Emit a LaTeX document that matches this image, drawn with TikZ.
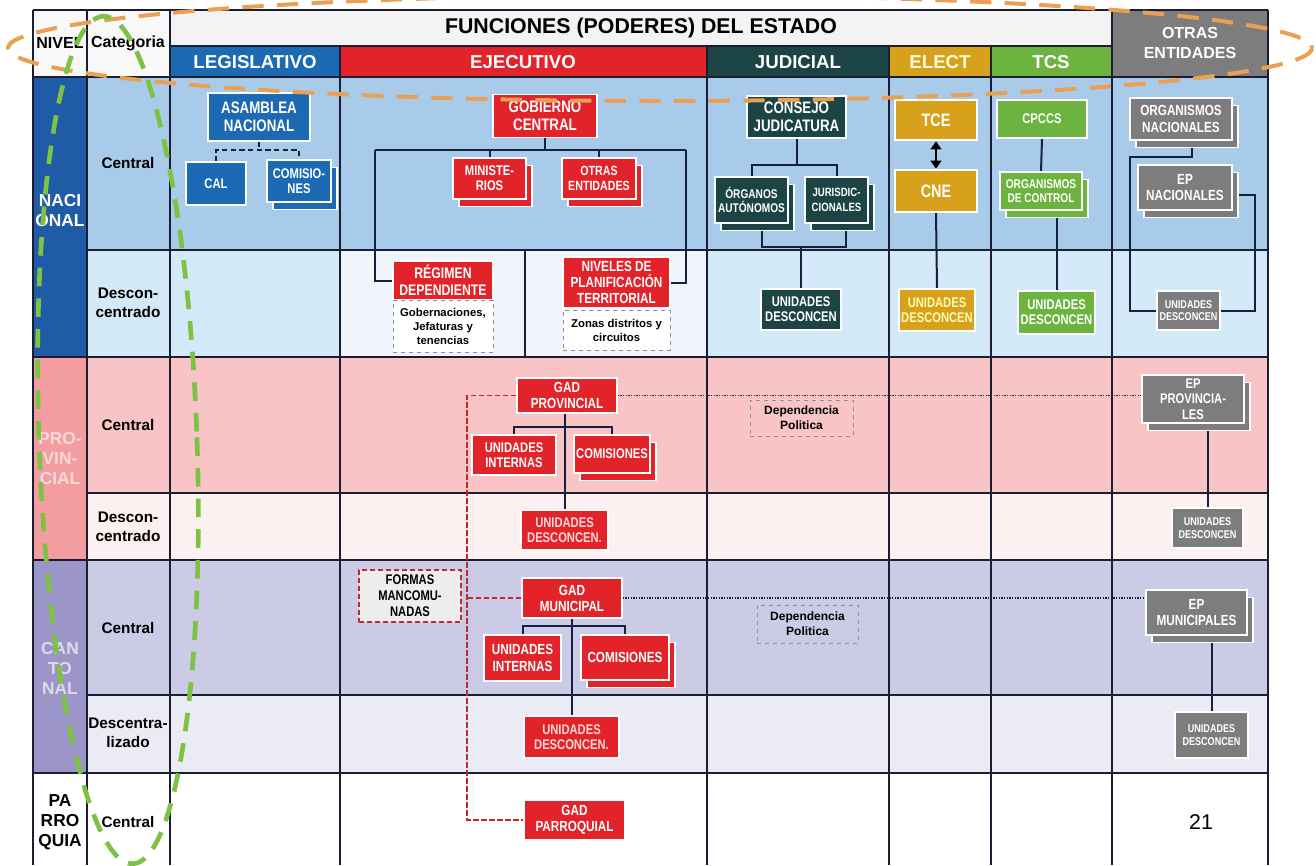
\documentclass[tikz,border=0pt]{standalone}
\usepackage{fontspec}
\setmainfont{Liberation Sans}
\newfontfamily\condfont[FakeStretch=0.8]{Liberation Sans}
\usetikzlibrary{shadows,arrows.meta}

\definecolor{tableline}{HTML}{1B1D33}
\definecolor{linknavy}{HTML}{14203F}
\definecolor{legblue}{HTML}{1C6AB4}
\definecolor{ejered}{HTML}{E2232A}
\definecolor{judgreen}{HTML}{1D4444}
\definecolor{eleggold}{HTML}{D8A11C}
\definecolor{tcsgreen}{HTML}{6CB33F}
\definecolor{otrgrey}{HTML}{7D7D7D}
\definecolor{nacblue}{HTML}{1F5BA6}
\definecolor{nacC}{HTML}{A9CBEA}
\definecolor{nacD}{HTML}{D4E9F7}
\definecolor{ejeD}{HTML}{EFF5FB}
\definecolor{provpink}{HTML}{F39DA1}
\definecolor{proC}{HTML}{F8C4C5}
\definecolor{proD}{HTML}{FDF0F0}
\definecolor{canpurple}{HTML}{9C96C8}
\definecolor{canC}{HTML}{CBCBE6}
\definecolor{canD}{HTML}{EBEBF5}
\definecolor{headgrey}{HTML}{F3F3F3}
\definecolor{orangemark}{HTML}{E9A055}
\definecolor{greenmark}{HTML}{7DC243}
\definecolor{reddash}{HTML}{C0282D}
\definecolor{notedash}{HTML}{8A8FA8}

\pgfdeclarelayer{background}
\pgfdeclarelayer{links}
\pgfdeclarelayer{deco}
\pgfsetlayers{background,links,main,deco}

\tikzset{every picture/.style={line width=0.75pt}}
\tikzset{
  tableline/.style={draw=tableline, line width=1.1pt},
  boxsize/.style 2 args={minimum width=#1*0.75pt, minimum height=#2*0.75pt},
  box/.style={draw=white, line width=1pt, fill=#1, text=white, align=center, inner sep=0pt},
  stack/.style={copy shadow={shadow xshift=4.5pt, shadow yshift=-5.5pt}},
  bigtxt/.style={font=\condfont\bfseries\fontsize{12.5}{13.5}\selectfont},
  medtxt/.style={font=\condfont\bfseries\fontsize{10.5}{11.5}\selectfont},
  smalltxt/.style={font=\condfont\bfseries\fontsize{8.5}{9.5}\selectfont},
  note/.style={draw=notedash, dashed, fill=white, text=black, align=center, inner sep=0pt, font=\bfseries\fontsize{8.5}{10.5}\selectfont},
  depnote/.style={draw=notedash, dashed, text=black, align=center, inner sep=0pt, font=\bfseries\fontsize{9}{11}\selectfont},
  link/.style={draw=linknavy, line width=1.5pt},
  linkdash/.style={draw=linknavy, line width=1.3pt, dash pattern={on 4pt off 2.5pt}},
  linkdot/.style={draw=linknavy, line width=1.3pt, dash pattern={on 1pt off 1pt}},
  linkred/.style={draw=reddash, line width=1.3pt, dash pattern={on 4pt off 2pt}},
  headtxt/.style={text=white, font=\bfseries\fontsize{14}{16}\selectfont},
  cattxt/.style={align=center, font=\bfseries\fontsize{11.5}{14.5}\selectfont},
  niveltxt/.style={align=center, font=\bfseries\fontsize{13}{15}\selectfont},
}

\begin{document}
\begin{tikzpicture}[x=0.75pt,y=0.75pt,yscale=-1,xscale=1]
\useasboundingbox (0,0) rectangle (1316,865);

\begin{pgfonlayer}{background}
%Shape: Rectangles (cell fills)
\fill[white] (0,0) rectangle (1316,865);
\fill[headgrey] (170,10) rectangle (1112,46);
\fill[headgrey!60!white] (33,10) rectangle (170,77);
\fill[legblue] (170,46) rectangle (340,77);
\fill[ejered] (340,46) rectangle (707,77);
\fill[judgreen] (707,46) rectangle (889,77);
\fill[eleggold] (889,46) rectangle (991,77);
\fill[tcsgreen] (991,46) rectangle (1112,77);
\fill[otrgrey] (1112,10) rectangle (1268,77);
\fill[nacblue] (33,77) rectangle (87,357);
\fill[provpink] (33,357) rectangle (87,560);
\fill[canpurple] (33,560) rectangle (87,773);
\fill[nacC] (87,77) rectangle (1268,250);
\fill[nacD] (87,250) rectangle (1268,357);
\fill[ejeD] (340,250) rectangle (707,357);
\fill[proC] (87,357) rectangle (1268,493);
\fill[proD] (87,493) rectangle (1268,560);
\fill[canC] (87,560) rectangle (1268,695);
\fill[canD] (87,695) rectangle (1268,773);
%Straight Lines (table)
\draw[tableline] (33,10) -- (1268,10) (170,46) -- (1112,46) (33,77) -- (1268,77)
  (87,250) -- (1268,250) (33,357) -- (1268,357) (87,493) -- (1268,493)
  (33,560) -- (1268,560) (87,695) -- (1268,695) (33,773) -- (1268,773);
\draw[tableline] (33,10) -- (33,865) (87,10) -- (87,865) (170,10) -- (170,865)
  (340,46) -- (340,865) (707,46) -- (707,865) (889,46) -- (889,865)
  (991,46) -- (991,865) (1112,10) -- (1112,865) (1268,10) -- (1268,865)
  (525,250) -- (525,357);
\end{pgfonlayer}

% Text Node (headers)
\node[font=\bfseries\fontsize{16}{18}\selectfont] (funciones) at (641,28) {FUNCIONES (PODERES) DEL ESTADO};
\node[font=\bfseries\fontsize{12}{14}\selectfont] (nivel) at (60,43) {NIVEL};
\node[font=\bfseries\fontsize{12}{14}\selectfont] (categoria) at (128,43) {Categoria};
\node[headtxt] (legislativo) at (255,62) {LEGISLATIVO};
\node[headtxt] (ejecutivo) at (523,62) {EJECUTIVO};
\node[headtxt] (judicial) at (798,62) {JUDICIAL};
\node[headtxt, text=white!85!yellow] (elect) at (940,62) {ELECT};
\node[headtxt] (tcs) at (1051,62) {TCS};
\node[text=white, align=center, font=\bfseries\fontsize{12}{14.5}\selectfont] (otras) at (1190,43) {OTRAS\\ENTIDADES};

% Text Node (niveles)
\node[niveltxt, text=white] (nacional) at (60,211) {NACI\\ONAL};
\node[niveltxt, text=provpink!40!white] (provincial) at (60,459) {PRO-\\VIN-\\CIAL};
\node[niveltxt, text=canpurple!35!white] (cantonal) at (60,668) {CAN\\TO\\NAL};
\node[niveltxt] (parroquia) at (60,822) {PA\\RRO\\QUIA};

% Text Node (categorias)
\node[cattxt] (catnacC) at (128,163) {Central};
\node[cattxt] (catnacD) at (128,303) {Descon-\\centrado};
\node[cattxt] (catproC) at (128,425) {Central};
\node[cattxt] (catproD) at (128,527) {Descon-\\centrado};
\node[cattxt] (catcanC) at (128,628) {Central};
\node[cattxt] (catcanD) at (128,733) {Descentra-\\lizado};
\node[cattxt] (catparC) at (128,822) {Central};

%Shape: Boxes (legislativo)
\node[box=legblue, bigtxt, boxsize={102}{48}] (asamblea) at (259,117) {ASAMBLEA\\NACIONAL};
\node[box=legblue, medtxt, boxsize={60}{43}] (cal) at (216,183.5) {CAL};
\node[box=legblue, medtxt, stack, boxsize={64}{42}] (comis) at (299,181) {COMISIO-\\NES};

%Shape: Boxes (ejecutivo)
\node[box=ejered, bigtxt, boxsize={104}{43}] (gobierno) at (545,116) {GOBIERNO\\CENTRAL};
\node[box=ejered, medtxt, stack, boxsize={73}{41}] (minis) at (489.5,178.5) {MINISTE-\\RIOS};
\node[box=ejered, font=\condfont\bfseries\fontsize{10}{11.5}\selectfont, stack, boxsize={74}{41}] (otrasent) at (599,178.5) {OTRAS\\ENTIDADES};
\node[box=ejered, font=\condfont\bfseries\fontsize{11.5}{13}\selectfont, boxsize={100}{39}] (regimen) at (443,280.5) {RÉGIMEN\\DEPENDIENTE};
\node[note, boxsize={100}{52}] (gobnote) at (443,326) {Gobernaciones,\\Jefaturas y\\tenencias};
\node[box=ejered, font=\condfont\bfseries\fontsize{11}{12}\selectfont, boxsize={107}{51}] (niveles) at (616.5,282.5) {NIVELES DE\\PLANIFICACIÓN\\TERRITORIAL};
\node[note, boxsize={107}{40}] (zonasnote) at (616.5,330) {Zonas distritos y\\circuitos};

%Shape: Boxes (judicial)
\node[box=judgreen, bigtxt, boxsize={99}{42}] (consejo) at (796.5,117) {CONSEJO\\JUDICATURA};
\node[box=judgreen, font=\condfont\bfseries\fontsize{9.5}{11}\selectfont, stack, boxsize={73}{46}] (organos) at (751.5,200) {ÓRGANOS\\AUTÓNOMOS};
\node[box=judgreen, font=\condfont\bfseries\fontsize{9}{11}\selectfont, stack, boxsize={63}{46}] (jurisd) at (836.5,200) {JURISDIC-\\CIONALES};
\node[box=judgreen, medtxt, boxsize={80}{41}] (udjud) at (801,309.5) {UNIDADES\\DESCONCEN};

%Shape: Boxes (electoral)
\node[box=eleggold, font=\condfont\bfseries\fontsize{13.5}{14.5}\selectfont, boxsize={82}{40}] (tce) at (936,120) {TCE};
\node[box=eleggold, font=\condfont\bfseries\fontsize{13.5}{14.5}\selectfont, boxsize={82}{42}] (cne) at (936,191) {CNE};
\node[box=eleggold, medtxt, text=white!70!yellow, boxsize={76}{42}] (udele) at (937,310) {UNIDADES\\DESCONCEN};

%Shape: Boxes (transparencia)
\node[box=tcsgreen, medtxt, boxsize={90}{38}] (cpccs) at (1042,119) {CPCCS};
\node[box=tcsgreen, font=\condfont\bfseries\fontsize{9.5}{11}\selectfont, stack, boxsize={82}{38}] (orgctrl) at (1041,191) {ORGANISMOS\\DE CONTROL};
\node[box=tcsgreen, medtxt, boxsize={77}{43}] (udtcs) at (1056.5,312.5) {UNIDADES\\DESCONCEN};

%Shape: Boxes (otras entidades)
\node[box=otrgrey, font=\condfont\bfseries\fontsize{11}{12.5}\selectfont, stack, boxsize={102}{42}] (orgnac) at (1181,119) {ORGANISMOS\\NACIONALES};
\node[box=otrgrey, font=\condfont\bfseries\fontsize{11}{12.5}\selectfont, stack, boxsize={94}{45}] (epnac) at (1185,187.5) {EP\\NACIONALES};
\node[box=otrgrey, smalltxt, boxsize={63}{39}] (udotr) at (1188.5,310.5) {UNIDADES\\DESCONCEN};

%Shape: Boxes (provincial)
\node[box=ejered, font=\condfont\bfseries\fontsize{11}{12}\selectfont, boxsize={100}{35}] (gadprov) at (567,395.5) {GAD\\PROVINCIAL};
\node[box=ejered, medtxt, boxsize={84}{40}] (uiprov) at (514,455) {UNIDADES\\INTERNAS};
\node[box=ejered, medtxt, stack, boxsize={76}{38}] (comprov) at (612,454) {COMISIONES};
\node[box=ejered, medtxt, text=white!85!red, boxsize={87}{40}] (udprov) at (564.5,530) {UNIDADES\\DESCONCEN.};
\node[depnote, boxsize={103}{36}] (depprov) at (801.5,418) {Dependencia\\Politica};
\node[box=otrgrey, medtxt, stack, boxsize={102}{48}] (epprov) at (1193,399) {EP\\PROVINCIA-\\LES};
\node[box=otrgrey, smalltxt, boxsize={71}{40}] (udprovot) at (1207.5,528) {UNIDADES\\DESCONCEN};

%Shape: Boxes (cantonal)
\node[draw=reddash, line width=1.3pt, dash pattern={on 4pt off 2pt}, fill=black!7, text=black, align=center, inner sep=0pt, font=\condfont\bfseries\fontsize{10.5}{12}\selectfont, boxsize={102}{52}] (formas) at (410,596) {FORMAS\\MANCOMU-\\NADAS};
\node[box=ejered, font=\condfont\bfseries\fontsize{11}{12}\selectfont, boxsize={100}{40}] (gadmun) at (572,598) {GAD\\MUNICIPAL};
\node[box=ejered, font=\condfont\bfseries\fontsize{11}{12.5}\selectfont, boxsize={77}{46}] (uimun) at (522.5,658) {UNIDADES\\INTERNAS};
\node[box=ejered, font=\condfont\bfseries\fontsize{11}{12.5}\selectfont, stack, boxsize={88}{45}] (commun) at (625,657.5) {COMISIONES};
\node[box=ejered, medtxt, text=white!85!red, boxsize={95}{42}] (udmun) at (571.5,737) {UNIDADES\\DESCONCEN.};
\node[depnote, boxsize={101}{38}] (depmun) at (807.5,624) {Dependencia\\Politica};
\node[box=otrgrey, font=\condfont\bfseries\fontsize{11}{12.5}\selectfont, stack, boxsize={101}{45}] (epmun) at (1196.5,612.5) {EP\\MUNICIPALES};
\node[box=otrgrey, smalltxt, boxsize={73}{46}] (udmunot) at (1211.5,735) {UNIDADES\\DESCONCEN};

%Shape: Boxes (parroquial)
\node[box=ejered, font=\condfont\bfseries\fontsize{11}{12}\selectfont, boxsize={101}{40}] (gadparr) at (574.5,820) {GAD\\PARROQUIAL};
% Text Node
\node[font=\fontsize{16}{18}\selectfont] (pagina) at (1201,822) {21};

\begin{pgfonlayer}{links}
%Straight Lines (legislativo)
\coordinate (legJ) at (259,150);
\draw[linkdash] (asamblea.south) -- (legJ);
\draw[linkdash] (cal.north) |- (legJ) -| (comis.north);
%Straight Lines (ejecutivo)
\coordinate (ejeL) at (375,150);
\coordinate (ejeR) at (686,150);
\draw[link] (ejeL) -- (ejeR);
\draw[link] (gobierno.south) -- (gobierno.south |- ejeL);
\draw[link] (minis.north) -- (minis.north |- ejeL);
\draw[link] (otrasent.north) -- (otrasent.north |- ejeL);
\draw[link] (ejeL) |- (regimen.west);
\draw[link] (ejeR) |- (niveles.east);
%Straight Lines (judicial)
\coordinate (judT) at (797,165);
\coordinate (judB) at (801,247);
\draw[link] (consejo.south) -- (consejo.south |- judT);
\draw[link] (organos.north) |- (judT) -| (jurisd.north);
\draw[link] ([xshift=8pt]organos.south) |- (judB) -| ([xshift=7pt]jurisd.south);
\draw[link] (judB) -- (udjud.north);
%Straight Lines (electoral, transparencia)
\draw[link] (cne.south) -- (udele.north);
\draw[link] (cpccs.south) -- (orgctrl.north);
\draw[link] (udtcs.north) -- (udtcs.north |- orgctrl.south);
%Straight Lines (otras entidades)
\coordinate (otrL) at (1130,157);
\coordinate (otrR) at (1255,195);
\draw[link] ([xshift=8pt]orgnac.south) |- (otrL) |- (udotr.west);
\draw[link] (epnac.east |- otrR) -- (otrR) |- (udotr.east);
%Straight Lines (provincial)
\coordinate (provJ) at (567,427);
\draw[link] (udprov.north) -- (udprov.north |- gadprov.south);
\draw[link] (uiprov.north) |- (provJ) -| (comprov.north);
\draw[linkdot] (gadprov.east) -- (gadprov.east -| epprov.west);
\draw[link] (udprovot.north) -- (udprovot.north |- epprov.south);
%Straight Lines (mancomunidad)
\coordinate (mancX) at (467,0);
\draw[linkred] (gadprov.west) -- (gadprov.west -| mancX) |- (gadparr.west);
\draw[linkred] (gadmun.west) -- (gadmun.west -| mancX);
%Straight Lines (cantonal)
\coordinate (munJ) at (572,626);
\draw[link] (udmun.north) -- (udmun.north |- gadmun.south);
\draw[link] (uimun.north) |- (munJ) -| (commun.north);
\draw[linkdot] (gadmun.east) -- (gadmun.east -| epmun.west);
\draw[link] (udmunot.north) -- (udmunot.north |- epmun.south);
\end{pgfonlayer}

%Straight Lines (arrow)
\draw[{Triangle[length=6pt,width=8pt]}-{Triangle[length=6pt,width=8pt]}, draw=black, line width=2.2pt, shorten <=0.5pt, shorten >=0.5pt] (tce.south) -- (cne.north);

\begin{pgfonlayer}{deco}
%Shape: Ellipse
\draw[orangemark, line width=3pt, dash pattern={on 16pt off 10pt}] (660,48) ellipse [x radius=652, y radius=53];
%Shape: Ellipse
\draw[greenmark, line width=3.5pt, dash pattern={on 14pt off 9pt}, rotate around={-2:(118,440)}] (118,440) ellipse [x radius=79, y radius=424];
\end{pgfonlayer}

\end{tikzpicture}
\end{document}
